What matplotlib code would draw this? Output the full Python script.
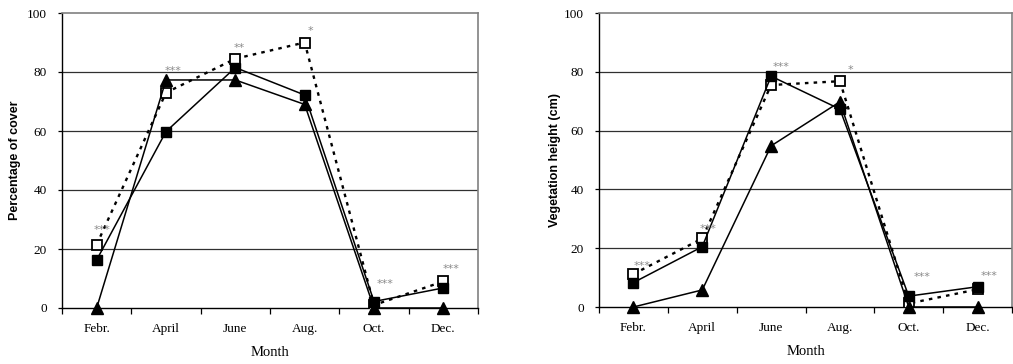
import matplotlib
matplotlib.use("Agg")
import matplotlib.pyplot as plt
from matplotlib.ticker import FixedLocator, NullFormatter

months = ["Febr.", "April", "June", "Aug.", "Oct.", "Dec."]

# Percentage of cover
cover_open = [21.5, 73, 84.5, 90, 1, 9]
cover_filled = [16.3, 59.8, 81.5, 72.2, 2.2, 6.8]
cover_tri = [0, 77.3, 77.3, 69, 0, 0]
cover_stars = ["***", "***", "**", "*", "***", "***"]
cover_star_y = [26.5, 80.5, 88, 94, 8, 13.3]
cover_star_dx = [0.08, 0.1, 0.05, 0.09, 0.16, 0.11]

# Vegetation height (cm)
height_open = [11.2, 23.3, 75.5, 76.8, 1.2, 6]
height_filled = [8.3, 20.5, 78.5, 67.3, 3.7, 6.9]
height_tri = [0, 5.8, 54.8, 69.8, 0, 0]
height_stars = ["***", "***", "***", "*", "***", "***"]
height_star_y = [14, 26.5, 81.6, 80.5, 10.3, 10.5]
height_star_dx = [0.12, 0.08, 0.15, 0.16, 0.2, 0.16]

SERIF = "Liberation Serif"

fig = plt.figure(figsize=(10.13, 3.64), dpi=100)
W, H = 1013, 364


def make_axes(x0, x1, y_top, y_bot):
    return fig.add_axes([x0 / W, 1 - y_bot / H, (x1 - x0) / W, (y_bot - y_top) / H])


def draw_panel(ax, open_v, filled_v, tri_v, stars, star_y, star_dx, ylabel, ylab_x):
    x = list(range(len(months)))
    ax.set_xlim(-0.5, len(months) - 0.5)
    ax.set_ylim(0, 100)

    # horizontal gridlines
    for g in [20, 40, 60, 80]:
        ax.axhline(g, color="#303030", lw=0.9, zorder=1)

    ax.plot(x, open_v, color="black", lw=1.7, linestyle=(0, (1.5, 2.2)),
            marker="s", markersize=6.5, markerfacecolor="white",
            markeredgecolor="black", markeredgewidth=1.3, zorder=3)
    ax.plot(x, filled_v, color="black", lw=1.1, marker="s", markersize=7.2,
            markerfacecolor="black", markeredgecolor="black", zorder=4)
    ax.plot(x, tri_v, color="black", lw=1.1, marker="^", markersize=8,
            markerfacecolor="black", markeredgecolor="black", zorder=5,
            clip_on=False)

    for i, (s, sy, dx) in enumerate(zip(stars, star_y, star_dx)):
        ax.text(i + dx, sy, s, color="#8a8a8a", fontsize=8,
                ha="center", va="center", zorder=6)

    # category axis: ticks on the boundaries, labels centred
    ax.xaxis.set_major_locator(FixedLocator([i - 0.5 for i in range(len(months) + 1)]))
    ax.xaxis.set_major_formatter(NullFormatter())
    ax.xaxis.set_minor_locator(FixedLocator(x))
    ax.set_xticklabels(months, minor=True)
    ax.tick_params(axis="x", which="major", direction="out", length=4, width=0.9)
    ax.tick_params(axis="x", which="minor", length=0, pad=11)
    for lab in ax.get_xticklabels(minor=True):
        lab.set_fontfamily(SERIF)
        lab.set_fontsize(9.5)

    ax.set_yticks([0, 20, 40, 60, 80, 100])
    ax.tick_params(axis="y", direction="out", length=3, width=0.9, pad=8)
    for lab in ax.get_yticklabels():
        lab.set_fontfamily(SERIF)
        lab.set_fontsize(9.5)

    ax.set_xlabel("Month", family=SERIF, fontsize=10.5)
    ax.xaxis.set_label_coords(0.5, -0.13)
    ax.set_ylabel(ylabel, family="Liberation Sans", fontweight="bold",
                  fontsize=9)
    ax.yaxis.set_label_coords(ylab_x, 0.5)

    for side in ["left", "bottom"]:
        ax.spines[side].set_color("black")
        ax.spines[side].set_linewidth(1.0)
    for side in ["top", "right"]:
        ax.spines[side].set_color("#808080")
        ax.spines[side].set_linewidth(1.2)


ax1 = make_axes(62, 478, 13, 308)
draw_panel(ax1, cover_open, cover_filled, cover_tri, cover_stars,
           cover_star_y, cover_star_dx, "Percentage of cover", (21 - 62) / 416)

ax2 = make_axes(599, 1012, 13, 307)
draw_panel(ax2, height_open, height_filled, height_tri, height_stars,
           height_star_y, height_star_dx, "Vegetation height (cm)", (561 - 599) / 413)

fig.savefig("out.png", dpi=100)
